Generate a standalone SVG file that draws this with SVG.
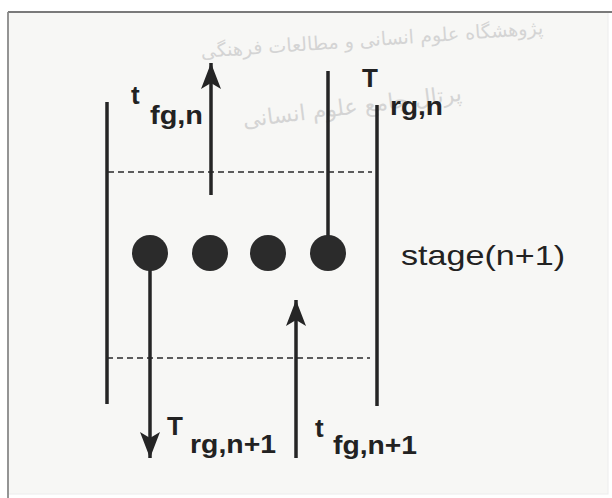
<svg xmlns="http://www.w3.org/2000/svg" width="612" height="498" viewBox="0 0 612 498">
  <defs>
    <style>
      .line { stroke: #252525; stroke-width: 3.5; fill: none; }
      .dash { stroke: #2a2a2a; stroke-width: 1.4; stroke-dasharray: 6 4; fill: none; }
      .dot { fill: #2b2b2b; }
      .lbl { font-family: "Liberation Sans", Arial, sans-serif; font-weight: bold; font-size: 26px; fill: #222; }
      .stage { font-family: "Liberation Sans", Arial, sans-serif; font-size: 28px; fill: #222; }
      .wm { font-family: "DejaVu Sans", "Noto Sans", sans-serif; fill: #d4d4d4; }
    </style>
    <marker id="ah" viewBox="0 0 26 20" refX="26" refY="10" markerWidth="26" markerHeight="20" markerUnits="userSpaceOnUse" orient="auto">
      <path d="M0,0 L26,10 L0,20 L6,10 Z" fill="#252525"/>
    </marker>
  </defs>
  <rect x="0" y="0" width="612" height="498" fill="#ffffff"/>
  <rect x="8" y="12" width="600" height="482" fill="#f7f7f5" stroke="#ececec" stroke-width="1"/>
  <line x1="8" y1="12" x2="612" y2="12" stroke="#7a7a7a" stroke-width="1.8"/>
  <line x1="8" y1="12" x2="8" y2="498" stroke="#8a8a8a" stroke-width="1.8"/>

  <g id="watermark">
    <text class="wm" x="372" y="46" font-size="19" text-anchor="middle" transform="rotate(-4 372 40)">پژوهشگاه علوم انسانی و مطالعات فرهنگی</text>
    <text class="wm" x="352" y="114" font-size="22" text-anchor="middle" transform="rotate(-7 352 106)">پرتال جامع علوم انسانی</text>
  </g>

  <g id="walls">
    <line class="line" x1="107" y1="102" x2="107" y2="404"/>
    <line class="line" x1="377" y1="105" x2="377" y2="406"/>
  </g>

  <g id="stage-boundaries">
    <line class="dash" x1="108" y1="172" x2="372" y2="172"/>
    <line class="dash" x1="107" y1="358" x2="370" y2="358"/>
  </g>

  <g id="connectors">
    <line class="line" x1="211" y1="195" x2="211" y2="63" marker-end="url(#ah)"/>
    <line class="line" x1="328" y1="71" x2="328" y2="253"/>
    <line class="line" x1="150" y1="253" x2="150" y2="458" marker-end="url(#ah)"/>
    <line class="line" x1="296" y1="458" x2="296" y2="300" marker-end="url(#ah)"/>
  </g>

  <g id="stage">
    <circle class="dot" cx="150" cy="253" r="18"/>
    <circle class="dot" cx="210" cy="253" r="18"/>
    <circle class="dot" cx="268" cy="253" r="18"/>
    <circle class="dot" cx="328" cy="253" r="18"/>
    <text class="stage" x="401" y="265" textLength="164" lengthAdjust="spacingAndGlyphs">stage(n+1)</text>
  </g>

  <g id="label-tfgn">
    <text class="lbl" x="131" y="104">t</text>
    <text class="lbl" x="150" y="124" textLength="53" lengthAdjust="spacingAndGlyphs">fg,n</text>
  </g>
  <g id="label-Trgn">
    <text class="lbl" x="362" y="87">T</text>
    <text class="lbl" x="390" y="115" textLength="53" lengthAdjust="spacingAndGlyphs">rg,n</text>
  </g>
  <g id="label-Trgn1">
    <text class="lbl" x="167" y="435">T</text>
    <text class="lbl" x="190" y="453" textLength="86" lengthAdjust="spacingAndGlyphs">rg,n+1</text>
  </g>
  <g id="label-tfgn1">
    <text class="lbl" x="315" y="437">t</text>
    <text class="lbl" x="333" y="454" textLength="84" lengthAdjust="spacingAndGlyphs">fg,n+1</text>
  </g>
</svg>
